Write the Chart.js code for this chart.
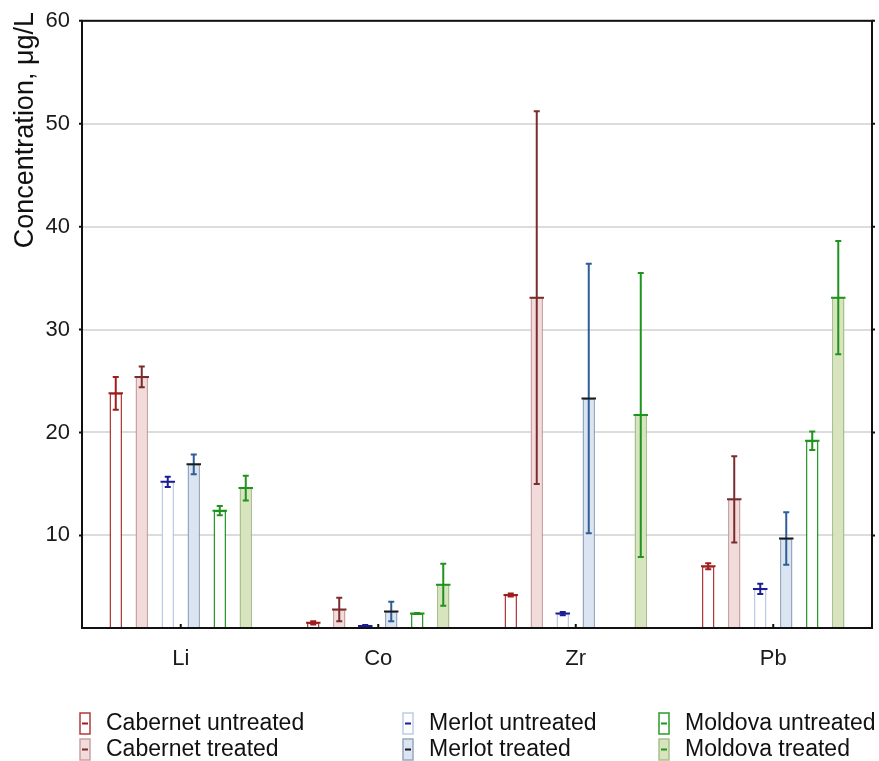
<!DOCTYPE html>
<html>
<head>
<meta charset="utf-8">
<script src="https://cdn.jsdelivr.net/npm/chart.js@4.4.0/dist/chart.umd.min.js"></script>
<style>
  html, body { margin: 0; padding: 0; background: #fff; }
  #wrap { width: 879px; height: 761px; position: relative; }
</style>
</head>
<body>
<div id="wrap"><canvas id="myChart" width="879" height="761"></canvas></div>
<script>
// data
const categories = ['Li', 'Co', 'Zr', 'Pb'];
const yTicks = [10, 20, 30, 40, 50, 60];

const cabUntreated = [23.8, 1.5, 4.2, 7.0];
const cabUntreatedErr = [1.6, 0.15, 0.15, 0.3];
const cabTreated = [25.4, 2.8, 33.1, 13.5];
const cabTreatedErr = [1.0, 1.15, 18.1, 4.2];
const merUntreated = [15.2, 1.2, 2.4, 4.8];
const merUntreatedErr = [0.5, 0.1, 0.15, 0.5];
const merTreated = [16.9, 2.6, 23.3, 9.7];
const merTreatedErr = [0.95, 0.95, 13.1, 2.55];
const molUntreated = [12.4, 2.4, null, 19.2];
const molUntreatedErr = [0.45, 0.05, null, 0.9];
const molTreated = [14.6, 5.2, 21.7, 33.1];
const molTreatedErr = [1.2, 2.05, 13.8, 5.5];

const yTitle = 'Concentration, μg/L';

const FONT = "'Liberation Sans', Arial, sans-serif";

const series = [
  { label: 'Cabernet untreated', data: cabUntreated, err: cabUntreatedErr, fill: '#ffffff', border: '#b03a3a', errColor: '#a01c1c', meanColor: '#a01c1c' },
  { label: 'Cabernet treated', data: cabTreated, err: cabTreatedErr, fill: '#f2dcdb', border: '#caa2a2', errColor: '#7a2c2c', meanColor: '#7a2c2c' },
  { label: 'Merlot untreated', data: merUntreated, err: merUntreatedErr, fill: '#ffffff', border: '#bccbe6', errColor: '#1c1c96', meanColor: '#1c1c96' },
  { label: 'Merlot treated', data: merTreated, err: merTreatedErr, fill: '#dbe5f1', border: '#97a8be', errColor: '#2f5d96', meanColor: '#1a1a1a' },
  { label: 'Moldova untreated', data: molUntreated, err: molUntreatedErr, fill: '#ffffff', border: '#2a9a2a', errColor: '#1e941e', meanColor: '#1e941e' },
  { label: 'Moldova treated', data: molTreated, err: molTreatedErr, fill: '#d7e4bd', border: '#a9c08e', errColor: '#1e941e', meanColor: '#1e941e' }
];

// error bars + mean line drawn from the scales
const errorBars = {
  id: 'errorBars',
  afterDatasetsDraw(chart) {
    const { ctx, chartArea, scales: { y } } = chart;
    ctx.save();
    ctx.beginPath();
    ctx.rect(chartArea.left, chartArea.top, chartArea.right - chartArea.left, chartArea.bottom - chartArea.top);
    ctx.clip();
    chart.data.datasets.forEach((ds, i) => {
      const meta = chart.getDatasetMeta(i);
      meta.data.forEach((bar, j) => {
        const v = ds.data[j];
        const e = ds.err[j];
        if (v == null) return;
        const x = bar.x;
        const yTop = y.getPixelForValue(v + e);
        const yBot = y.getPixelForValue(v - e);
        const yMid = y.getPixelForValue(v);
        ctx.strokeStyle = ds.errColor;
        ctx.lineWidth = 2;
        ctx.beginPath();
        ctx.moveTo(x, yTop);
        ctx.lineTo(x, yBot);
        ctx.moveTo(x - 3, yTop);
        ctx.lineTo(x + 3, yTop);
        ctx.moveTo(x - 3, yBot);
        ctx.lineTo(x + 3, yBot);
        ctx.stroke();
        ctx.strokeStyle = ds.meanColor;
        ctx.beginPath();
        ctx.moveTo(x - bar.width / 2 - 1, yMid);
        ctx.lineTo(x + bar.width / 2 + 1, yMid);
        ctx.stroke();
      });
    });
    ctx.restore();
  }
};

// frame, tick marks, y title and the legend underneath
const frameAndLegend = {
  id: 'frameAndLegend',
  afterDraw(chart) {
    const { ctx, chartArea: a, scales: { x, y } } = chart;
    ctx.save();
    ctx.strokeStyle = '#111';
    ctx.lineWidth = 2;
    ctx.strokeRect(a.left, a.top, a.right - a.left, a.bottom - a.top);
    ctx.beginPath();
    yTicks.forEach(t => {
      const py = y.getPixelForValue(t);
      ctx.moveTo(a.left - 3, py); ctx.lineTo(a.left, py);
      ctx.moveTo(a.right, py); ctx.lineTo(a.right + 3, py);
    });
    categories.forEach((c, i) => {
      const px = x.getPixelForValue(i);
      ctx.moveTo(px, a.bottom); ctx.lineTo(px, a.bottom - 4);
    });
    ctx.stroke();

    // y title, right end a bit above the frame
    ctx.save();
    ctx.translate(26, 12);
    ctx.rotate(-Math.PI / 2);
    ctx.font = '27px ' + FONT;
    ctx.textAlign = 'right';
    ctx.textBaseline = 'middle';
    ctx.fillStyle = '#111';
    ctx.fillText(yTitle, 0, 0);
    ctx.restore();

    const cols = [80, 403, 659];
    const rows = [713, 739];
    ctx.font = '23px ' + FONT;
    ctx.textBaseline = 'middle';
    series.forEach((s, i) => {
      const bx = cols[Math.floor(i / 2)];
      const by = rows[i % 2];
      ctx.fillStyle = s.fill;
      ctx.fillRect(bx, by, 10, 21);
      ctx.strokeStyle = s.border;
      ctx.lineWidth = 1.5;
      ctx.strokeRect(bx, by, 10, 21);
      ctx.strokeStyle = s.meanColor;
      ctx.lineWidth = 2;
      ctx.beginPath();
      ctx.moveTo(bx + 2, by + 10.5);
      ctx.lineTo(bx + 8, by + 10.5);
      ctx.stroke();
      ctx.fillStyle = '#111';
      ctx.fillText(s.label, bx + 26, by + 11);
    });
    ctx.restore();
  }
};

const ctx = document.getElementById('myChart');

new Chart(ctx, {
  type: 'bar',
  data: {
    labels: categories,
    datasets: series.map(s => ({
      label: s.label,
      data: s.data,
      err: s.err,
      errColor: s.errColor,
      meanColor: s.meanColor,
      backgroundColor: s.fill,
      borderColor: s.border,
      borderWidth: 1.5,
      categoryPercentage: 0.79,
      barPercentage: 0.48
    }))
  },
  options: {
    responsive: false,
    animation: false,
    layout: { padding: { top: 20, right: 7, bottom: 93, left: 0 } },
    plugins: {
      legend: { display: false },
      tooltip: { enabled: false }
    },
    scales: {
      x: {
        grid: { display: false },
        border: { display: false },
        ticks: { color: '#1a1a1a', font: { family: FONT, size: 22 }, padding: 10 },
        afterFit(scale) { scale.height = 40; }
      },
      y: {
        min: 1,
        max: 60,
        afterBuildTicks(scale) { scale.ticks = yTicks.map(v => ({ value: v })); },
        grid: { color: '#dcdcdc', lineWidth: 2, drawTicks: false },
        border: { display: false },
        ticks: { color: '#1a1a1a', font: { family: FONT, size: 22, lineHeight: 0.8 }, padding: 12 },
        afterFit(scale) { scale.width = 82; }
      }
    }
  },
  plugins: [errorBars, frameAndLegend]
});
</script>
</body>
</html>
